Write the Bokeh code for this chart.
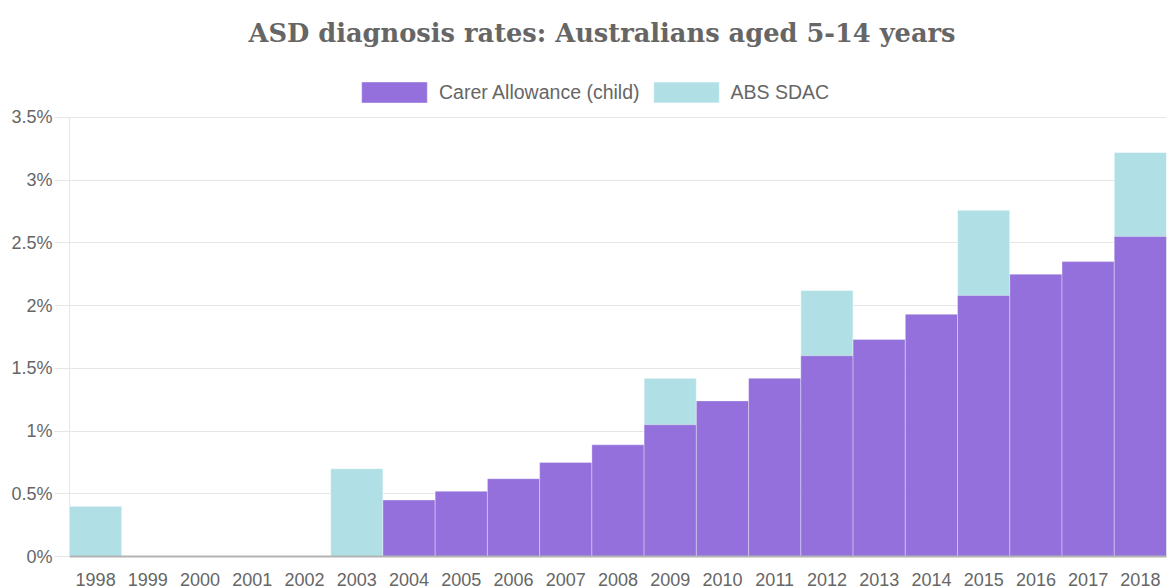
from bokeh.plotting import figure
from bokeh.models import (Legend, LegendItem, FactorRange, Range1d, ColumnDataSource,
                          CustomJSTickFormatter, FixedTicker)
from bokeh.embed import file_html
from bokeh.resources import INLINE

title_text = "ASD diagnosis rates: Australians aged 5-14 years"
years = [str(y) for y in range(1998, 2019)]
carer_years = ["2004", "2005", "2006", "2007", "2008", "2009", "2010", "2011",
               "2012", "2013", "2014", "2015", "2016", "2017", "2018"]
carer_values = [0.45, 0.52, 0.62, 0.75, 0.89, 1.05, 1.24, 1.42,
                1.60, 1.73, 1.93, 2.08, 2.25, 2.35, 2.55]
abs_years = ["1998", "2003", "2009", "2012", "2015", "2018"]
abs_values = [0.40, 0.70, 1.42, 2.12, 2.76, 3.22]
y_ticks = [0, 0.5, 1, 1.5, 2, 2.5, 3, 3.5]
series_names = ["Carer Allowance (child)", "ABS SDAC"]

PURPLE = "#9370DB"
BLUE = "#B0E0E6"
GREY = "#666666"

# frame from y=60 to y=556 px; 3.5% gridline sits at y=115 (room for the legend above it)
Y_TOP = 3.5 * 496 / 441

p = figure(width=1168, height=588, output_backend="svg", toolbar_location=None,
           x_range=FactorRange(factors=years, range_padding=0),
           y_range=Range1d(0, Y_TOP),
           min_border_left=69, min_border_right=2, min_border_bottom=32,
           min_border_top=60)

p.title.text = title_text
p.title.align = "left"
p.title.text_font = "DejaVu Serif"
p.title.text_font_style = "bold"
p.title.text_font_size = "25.7px"
p.title.text_color = GREY
p.title.offset = 179
p.title.standoff = 30

abs_src = ColumnDataSource(dict(x=abs_years, top=abs_values))
carer_src = ColumnDataSource(dict(x=carer_years, top=carer_values))

r_abs = p.vbar(x="x", top="top", width=1.0, source=abs_src, fill_color=BLUE,
               line_color="white", line_alpha=0.5, line_width=1)
r_carer = p.vbar(x="x", top="top", width=1.0, source=carer_src, fill_color=PURPLE,
                 line_color="white", line_alpha=0.35, line_width=1)

legend = Legend(items=[LegendItem(label=series_names[0], renderers=[r_carer]),
                       LegendItem(label=series_names[1], renderers=[r_abs])],
                orientation="horizontal", location=(284, 451),
                glyph_width=82, glyph_height=26, label_standoff=4, spacing=5,
                border_line_color=None, background_fill_alpha=0,
                label_text_font="Liberation Sans", label_text_font_size="19.5px",
                label_text_color=GREY, padding=4, margin=0)
p.add_layout(legend, "center")

p.outline_line_color = None
p.xgrid.grid_line_color = None
p.ygrid.grid_line_color = "#e6e6e6"
p.ygrid.ticker = FixedTicker(ticks=y_ticks)

p.yaxis.ticker = FixedTicker(ticks=y_ticks)
p.yaxis.bounds = (0, 3.5)
p.yaxis.formatter = CustomJSTickFormatter(code="return tick + '%';")
p.yaxis.axis_line_color = "#e6e6e6"
p.yaxis.major_tick_line_color = "#e6e6e6"
p.yaxis.major_tick_out = 15
p.yaxis.major_tick_in = 0
p.yaxis.minor_tick_line_color = None
p.yaxis.major_label_standoff = 2

p.xaxis.axis_line_color = "#b3b3b3"
p.xaxis.axis_line_width = 2
p.xaxis.major_tick_line_color = None
p.xaxis.minor_tick_line_color = None
p.xaxis.major_label_standoff = 10

for ax in (p.xaxis, p.yaxis):
    ax.major_label_text_font = "Liberation Sans"
    ax.major_label_text_font_size = "18px"
    ax.major_label_text_color = GREY

open("out.html", "w").write(file_html(p, INLINE))
